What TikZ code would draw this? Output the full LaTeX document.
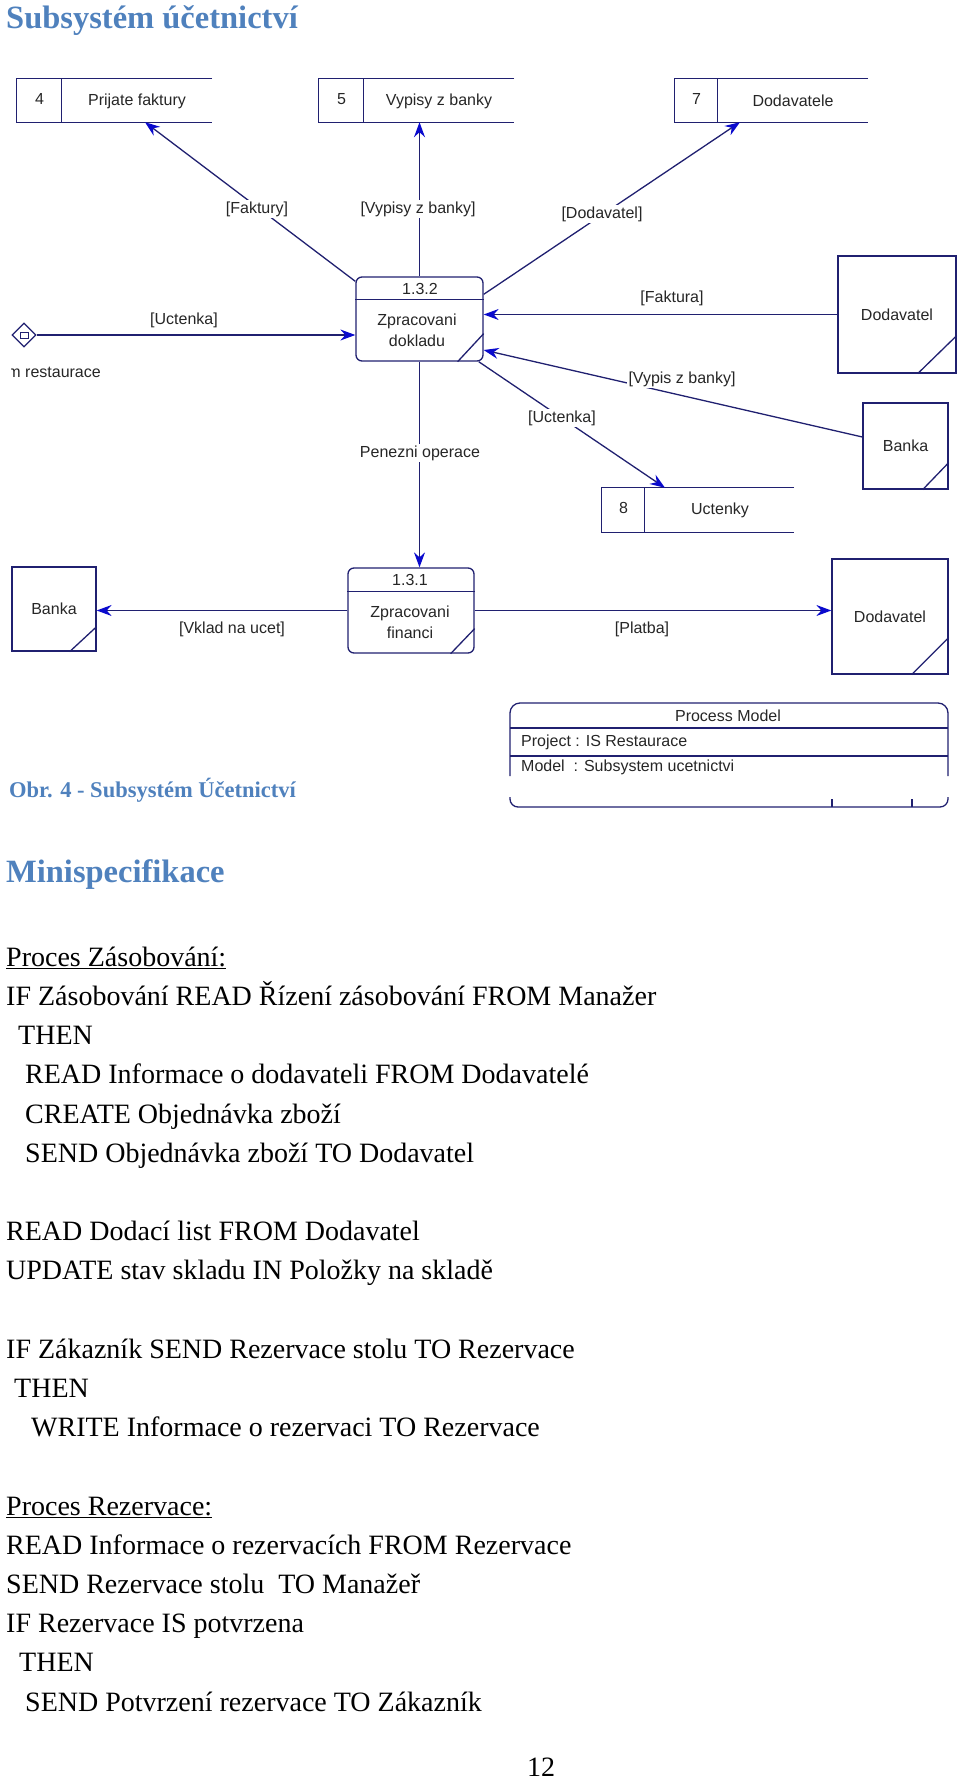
\documentclass[tikz,border=0pt]{standalone}
\usepackage{fontspec}
\setmainfont{Liberation Serif}
\newfontfamily\dfdfont{Liberation Sans}
\usetikzlibrary{arrows.meta,shapes.geometric}

\definecolor{headblue}{HTML}{4F81BD}
\definecolor{dfdnavy}{RGB}{32,32,112}
\definecolor{tipblue}{RGB}{10,10,205}

\tikzset{
	dfdline/.style={draw=dfdnavy, line width=1.3pt},
	flow/.style={dfdline, -{Stealth[length=15pt, width=11pt, inset=5pt, color=tipblue]}},
	dfdtext/.style={font=\dfdfont\fontsize{16}{21}\selectfont, text=black!85, inner sep=1pt},
	flowlabel/.style={dfdtext, fill=white, inner sep=2pt},
	store/.style={inner sep=0pt, minimum height=43pt},
	entity/.style={dfdline, dfdtext, inner sep=0pt},
	proc/.style={dfdline, rounded corners=6pt, inner sep=0pt},
	heading/.style={anchor=base west, font=\bfseries\fontsize{32.5}{39}\selectfont, text=headblue, inner sep=0pt},
	spec/.style={anchor=base west, font=\fontsize{28}{39}\selectfont, inner sep=0pt}
}

\begin{document}
\begin{tikzpicture}[x=1pt, y=-1pt]
		\useasboundingbox (0,0) rectangle (960,1779);
		% Heading:
		\node[heading] (title) at (6,29) {Subsystém účetnictví};
		% Data stores:
		\node[store, minimum width=195pt] (s4) at (114.5,100.5) {};
		\draw[dfdline] (s4.north east) -- (s4.north west) -- (s4.south west) -- (s4.south east);
		\draw[dfdline] ([xshift=45pt]s4.north west) -- ([xshift=45pt]s4.south west);
		\node[dfdtext] (s4num) at (39.5,99) {4};
		\node[dfdtext] (s4name) at (137,101) {Prijate faktury};
		\node[store, minimum width=195pt] (s5) at (416.5,100.5) {};
		\draw[dfdline] (s5.north east) -- (s5.north west) -- (s5.south west) -- (s5.south east);
		\draw[dfdline] ([xshift=45pt]s5.north west) -- ([xshift=45pt]s5.south west);
		\node[dfdtext] (s5num) at (341.5,99) {5};
		\node[dfdtext] (s5name) at (439,101) {Vypisy z banky};
		\node[store, minimum width=193pt] (s7) at (771.5,100.5) {};
		\draw[dfdline] (s7.north east) -- (s7.north west) -- (s7.south west) -- (s7.south east);
		\draw[dfdline] ([xshift=43pt]s7.north west) -- ([xshift=43pt]s7.south west);
		\node[dfdtext] (s7num) at (696.5,99) {7};
		\node[dfdtext] (s7name) at (793,101) {Dodavatele};
		\node[store, minimum width=192pt, minimum height=44pt] (s8) at (698,510) {};
		\draw[dfdline] (s8.north east) -- (s8.north west) -- (s8.south west) -- (s8.south east);
		\draw[dfdline] ([xshift=43pt]s8.north west) -- ([xshift=43pt]s8.south west);
		\node[dfdtext] (s8num) at (623.5,508) {8};
		\node[dfdtext] (s8name) at (720,510) {Uctenky};
		% Processes:
		\node[proc, minimum width=127pt, minimum height=84pt] (p132) at (419.5,319) {};
		\draw[dfdline] ([yshift=-23pt]p132.north west) -- ([yshift=-23pt]p132.north east);
		\draw[dfdline] ([xshift=-26pt]p132.south east) -- ([yshift=28pt]p132.south east);
		\node[dfdtext] (p132id) at (420,288.5) {1.3.2};
		\node[dfdtext, align=center] (p132name) at (417,330.5) {Zpracovani\\dokladu};
		\node[proc, minimum width=126pt, minimum height=85pt] (p131) at (411,610.5) {};
		\draw[dfdline] ([yshift=-24pt]p131.north west) -- ([yshift=-24pt]p131.north east);
		\draw[dfdline] ([xshift=-24pt]p131.south east) -- ([yshift=25pt]p131.south east);
		\node[dfdtext] (p131id) at (410,580) {1.3.1};
		\node[dfdtext, align=center] (p131name) at (410,622) {Zpracovani\\financi};
		% External entities:
		\node[entity, minimum width=118pt, minimum height=117pt] (d1) at (897,314.5) {Dodavatel};
		\draw[dfdline] ([xshift=-39pt]d1.south east) -- ([yshift=38pt]d1.south east);
		\node[entity, minimum width=85pt, minimum height=86pt] (b1) at (905.5,446) {Banka};
		\draw[dfdline] ([xshift=-26pt]b1.south east) -- ([yshift=27pt]b1.south east);
		\node[entity, minimum width=84pt, minimum height=84pt] (b2) at (54,609) {Banka};
		\draw[dfdline] ([xshift=-27pt]b2.south east) -- ([yshift=25pt]b2.south east);
		\node[entity, minimum width=116pt, minimum height=115pt] (d2) at (890,616.5) {Dodavatel};
		\draw[dfdline] ([xshift=-37pt]d2.south east) -- ([yshift=37pt]d2.south east);
		\node[diamond, dfdline, minimum width=24pt, minimum height=24pt, inner sep=0pt] (src) at (24,335) {};
		\node[draw=dfdnavy, line width=1pt, minimum width=8pt, minimum height=6pt, inner sep=0pt] (srcbox) at (src) {};
		\begin{scope}
			\clip (11,355) rectangle (200,392);
			\node[dfdtext, anchor=base east] (srcname) at (102,377) {m restaurace};
		\end{scope}
		% Flows:
		\draw[flow] (src.east) -- (src.east -| p132.west);
		\draw[flow] ([yshift=-5pt]p132.north west) -- ([xshift=30.5pt]s4.south);
		\draw[flow] (p132.north) -- (p132.north |- s5.south);
		\draw[flow] ([yshift=-18pt]p132.north east) -- ([xshift=-31.5pt]s7.south);
		\draw[flow] (d1.west) -- (d1.west -| p132.east);
		\draw[flow] ([yshift=9pt]b1.west) -- ([yshift=-31pt]p132.east);
		\draw[flow] ([xshift=-5pt]p132.south east) -- ([xshift=-33pt]s8.north);
		\draw[flow] (p132.south) -- (p132.south |- p131.north);
		\draw[flow] (p131.west) -- (p131.west -| b2.east);
		\draw[flow] (p131.east) -- (p131.east -| d2.west);
		\node[flowlabel] (lfaktury) at (257,209) {[Faktury]};
		\node[flowlabel] (lvypisy) at (418,209) {[Vypisy z banky]};
		\node[flowlabel] (ldodavatel) at (602,214) {[Dodavatel]};
		\node[flowlabel] (luctenka) at (184,320) {[Uctenka]};
		\node[flowlabel] (lfaktura) at (672,298) {[Faktura]};
		\node[flowlabel] (lvypis) at (682,379) {[Vypis z banky]};
		\node[flowlabel] (luctenka2) at (562,418) {[Uctenka]};
		\node[flowlabel] (lpenezni) at (420,453) {Penezni operace};
		\node[flowlabel] (lvklad) at (232,629) {[Vklad na ucet]};
		\node[flowlabel] (lplatba) at (642,629) {[Platba]};
		% Title block of the model:
		\draw[dfdline, rounded corners=10pt] (510,776) -- (510,703) -- (948,703) -- (948,776);
		\draw[dfdline] (510,728) -- (948,728);
		\draw[dfdline] (510,756) -- (948,756);
		\draw[dfdline, rounded corners=8pt] (510,797) -- (510,807) -- (948,807) -- (948,797);
		\draw[dfdline] (832,799) -- (832,807);
		\draw[dfdline] (912,799) -- (912,807);
		\node[dfdtext] (pmtitle) at (728,716) {Process Model};
		\node[dfdtext, anchor=west] (pmproject) at (520,742) {Project : IS Restaurace};
		\node[dfdtext, anchor=west] (pmmodel) at (520,767) {Model\ \ : Subsystem ucetnictvi};
		\node[heading, font=\bfseries\fontsize{22.5}{27}\selectfont] (caption) at (9,797) {Obr. 4 - Subsystém Účetnictví};
		% Minispecifikace:
		\node[heading] (minispec) at (6,882) {Minispecifikace};
		\node[spec] (zas) at (6,966) {\underline{Proces Zásobování:}};
		\node[spec] (zasif) at (6,1005) {IF Zásobování READ Řízení zásobování FROM Manažer};
		\node[spec] (zasthen) at (18,1044) {THEN};
		\node[spec] (zasread) at (25,1083) {READ Informace o dodavateli FROM Dodavatelé};
		\node[spec] (zascreate) at (25,1123) {CREATE Objednávka zboží};
		\node[spec] (zassend) at (25,1162) {SEND Objednávka zboží TO Dodavatel};
		\node[spec] (dodread) at (6,1240) {READ Dodací list FROM Dodavatel};
		\node[spec] (dodupdate) at (6,1279) {UPDATE stav skladu IN Položky na skladě};
		\node[spec] (zakif) at (6,1358) {IF Zákazník SEND Rezervace stolu TO Rezervace};
		\node[spec] (zakthen) at (14,1397) {THEN};
		\node[spec] (zakwrite) at (31,1436) {WRITE Informace o rezervaci TO Rezervace};
		\node[spec] (rez) at (6,1515) {\underline{Proces Rezervace:}};
		\node[spec] (rezread) at (6,1554) {READ Informace o rezervacích FROM Rezervace};
		\node[spec] (rezsend) at (6,1593) {SEND Rezervace stolu\ \ TO Manažeř};
		\node[spec] (rezif) at (6,1632) {IF Rezervace IS potvrzena};
		\node[spec] (rezthen) at (19,1671) {THEN};
		\node[spec] (rezsend2) at (25,1711) {SEND Potvrzení rezervace TO Zákazník};
		\node[spec] (pagenum) at (527,1776) {12};
	\end{tikzpicture}
\end{document}
